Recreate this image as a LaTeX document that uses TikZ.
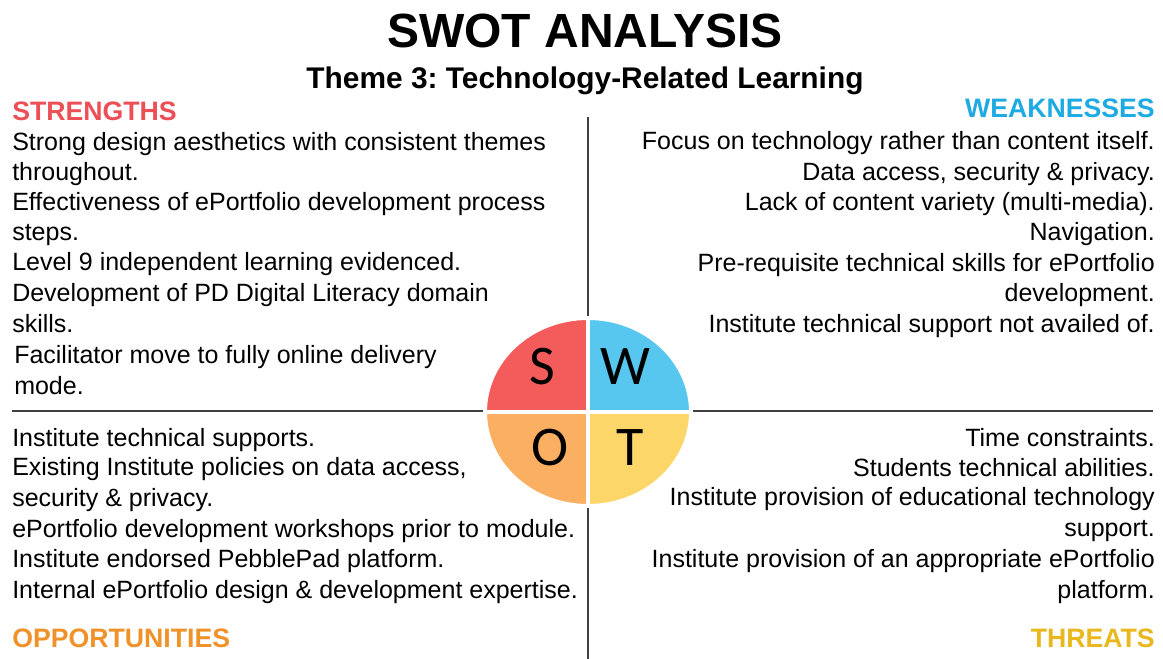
\documentclass[tikz,border=0pt]{standalone}
\usepackage{fontspec}
\setmainfont{Liberation Sans}
\newfontfamily\letterfont{Carlito}
\usepackage{tikz}
\frenchspacing

\definecolor{sred}{RGB}{244,92,92}
\definecolor{sblue}{RGB}{88,199,240}
\definecolor{sorange}{RGB}{250,175,98}
\definecolor{syellow}{RGB}{253,214,106}
\definecolor{hred}{RGB}{236,80,86}
\definecolor{hblue}{RGB}{30,170,226}
\definecolor{horange}{RGB}{240,146,42}
\definecolor{hyellow}{RGB}{232,184,30}

\begin{document}
\begin{tikzpicture}[x=0.75pt,y=-0.75pt,
	item/.style={inner sep=0pt,font=\fontsize{18.75}{22.7}\selectfont},
	leftitem/.style={item,anchor=base west,align=left},
	rightitem/.style={item,anchor=base east,align=right},
	heading/.style={inner sep=0pt,font=\fontsize{20}{24}\selectfont\bfseries},
	letter/.style={inner sep=0pt,anchor=base,font=\fontsize{42}{48}\letterfont},
	divider/.style={draw=black!75,line width=1.5pt}]
	\useasboundingbox[fill=white] (0,0) rectangle (1163,659);

	\node[inner sep=0pt,anchor=base,font=\fontsize{36}{40}\selectfont\bfseries] (title) at (585,48) {SWOT ANALYSIS};
	\node[inner sep=0pt,anchor=base,font=\fontsize{22.4}{26}\selectfont\bfseries] (theme) at (585,89) {Theme 3: Technology-Related Learning};

	% cross
	\coordinate (top) at (588,117);
	\coordinate (bottom) at (588,659);
	\coordinate (west) at (12,411);
	\coordinate (east) at (1153,411);
	\draw[divider] (top) -- (bottom);
	\draw[divider] (west) -- (east);

	% circle
	\coordinate (c) at (588,412);
	\begin{scope}
		\clip (c) ellipse [x radius=103, y radius=94];
		\fill[sred] (c) rectangle ++(-110,-100);
		\fill[sblue] (c) rectangle ++(110,-100);
		\fill[sorange] (c) rectangle ++(-110,100);
		\fill[syellow] (c) rectangle ++(110,100);
	\end{scope}
	\draw[white,line width=3pt] (c) ellipse [x radius=103, y radius=94];
	\draw[white,line width=3.5pt] (484,412) -- (692,412);
	\draw[white,line width=3.5pt] (588,316) -- (588,508);
	\node[letter] (S) at (542.5,384) {S};
	\node[letter] (W) at (625,384) {W};
	\node[letter] (O) at (550,465) {O};
	\node[letter] (T) at (630,465) {T};

	% strengths (multi-line items sit on their last baseline)
	\node[heading,anchor=base west,text=hred] (strengths) at (12,121) {STRENGTHS};
	\node[leftitem] (s1) at (12,180.5) {Strong design aesthetics with consistent themes\\throughout.};
	\node[leftitem] (s2) at (12,241) {Effectiveness of ePortfolio development process\\steps.};
	\node[leftitem] (s3) at (12,271) {Level 9 independent learning evidenced.};
	\node[leftitem] (s4) at (12,332) {Development of PD Digital Literacy domain\\skills.};
	\node[leftitem] (s5) at (14,394) {Facilitator move to fully online delivery\\mode.};

	% weaknesses
	\node[heading,anchor=base east,text=hblue] (weaknesses) at (1155,118) {WEAKNESSES};
	\node[rightitem] (w1) at (1155,150) {Focus on technology rather than content itself.};
	\node[rightitem] (w2) at (1155,180.5) {Data access, security \& privacy.};
	\node[rightitem] (w3) at (1155,211) {Lack of content variety (multi-media).};
	\node[rightitem] (w4) at (1155,241) {Navigation.};
	\node[rightitem] (w5) at (1155,301.5) {Pre-requisite technical skills for ePortfolio\\development.};
	\node[rightitem] (w6) at (1155,332) {Institute technical support not availed of.};

	% opportunities
	\node[leftitem] (o1) at (12,446) {Institute technical supports.};
	\node[leftitem] (o2) at (12,506) {Existing Institute policies on data access,\\security \& privacy.};
	\node[leftitem] (o3) at (12,537) {ePortfolio development workshops prior to module.};
	\node[leftitem] (o4) at (12,567) {Institute endorsed PebblePad platform.};
	\node[leftitem] (o5) at (12,598) {Internal ePortfolio design \& development expertise.};
	\node[heading,anchor=base west,text=horange] (opportunities) at (12,647) {OPPORTUNITIES};

	% threats
	\node[rightitem] (t1) at (1155,446) {Time constraints.};
	\node[rightitem] (t2) at (1155,476) {Students technical abilities.};
	\node[rightitem] (t3) at (1155,536) {Institute provision of educational technology\\support.};
	\node[rightitem] (t4) at (1155,598) {Institute provision of an appropriate ePortfolio\\platform.};
	\node[heading,anchor=base east,text=hyellow] (threats) at (1155,647) {THREATS};
\end{tikzpicture}
\end{document}
